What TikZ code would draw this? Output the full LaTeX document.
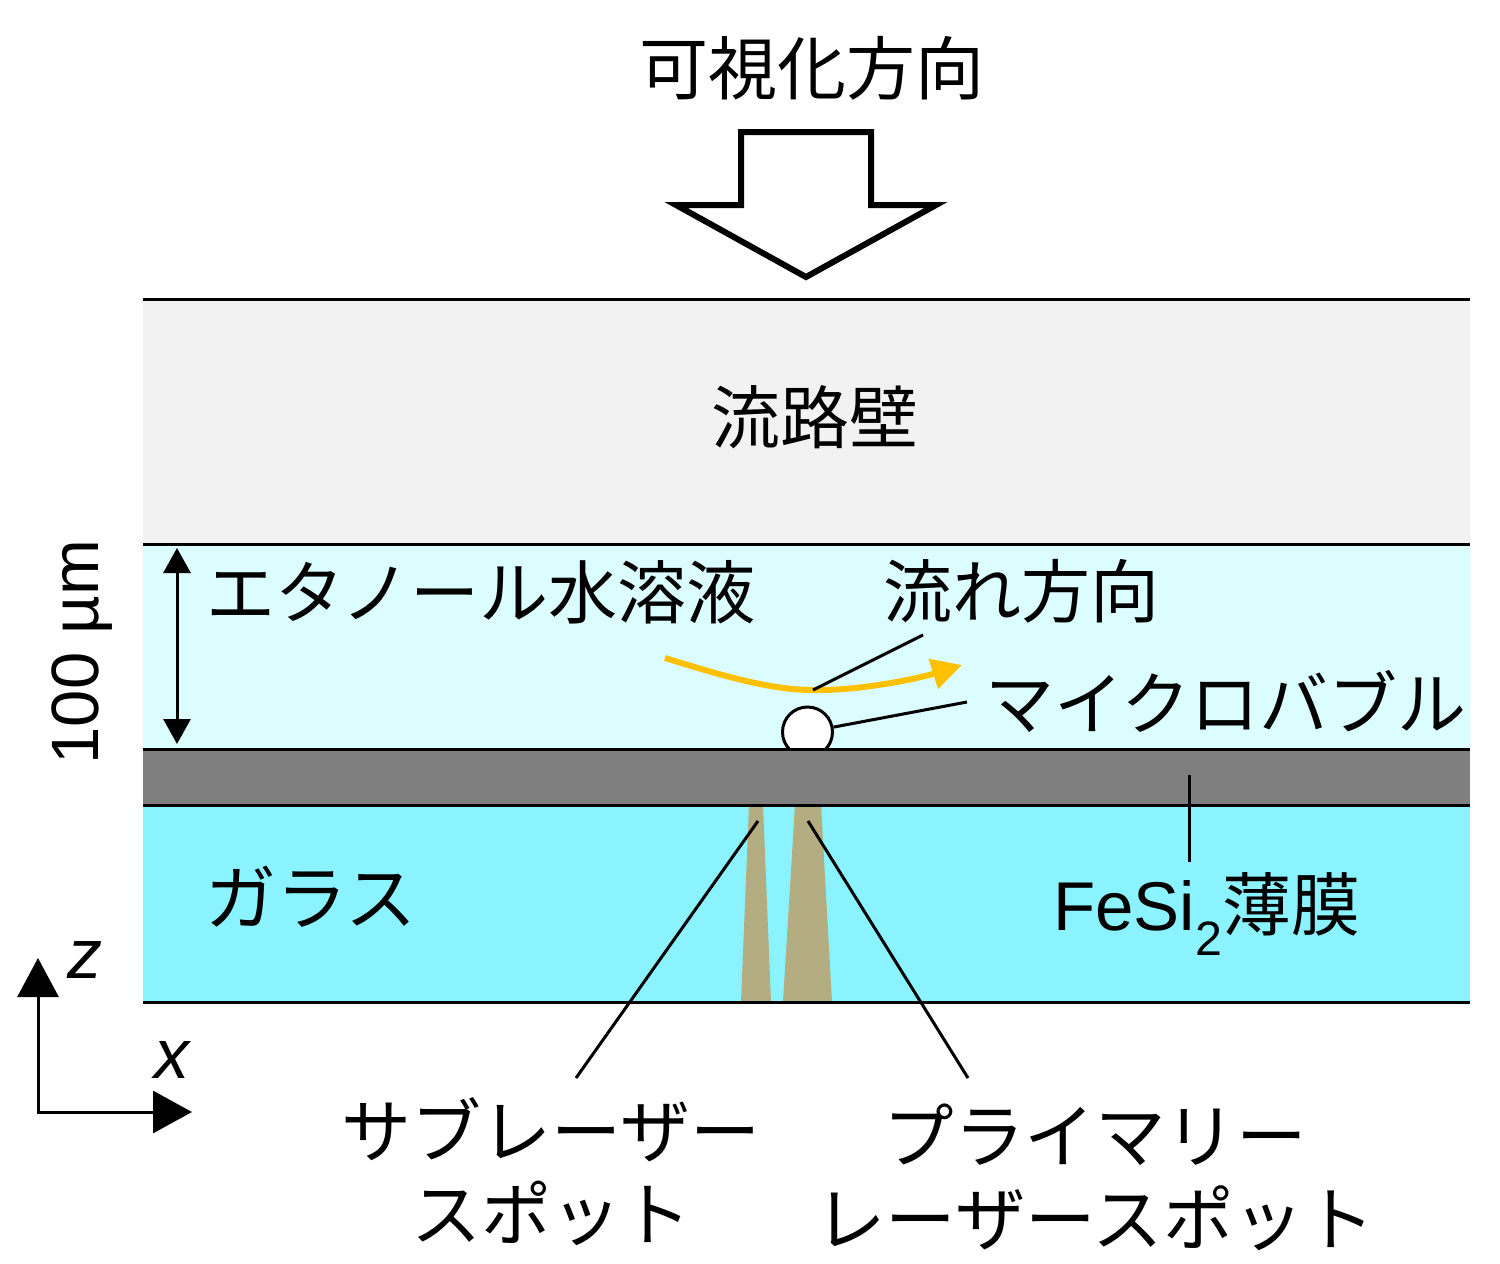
\documentclass[tikz,border=0pt]{standalone}
\usepackage{fontspec}
\setmainfont{Liberation Sans}
\newfontfamily\cjk{Noto Sans CJK JP}
\usetikzlibrary{arrows.meta}
\definecolor{wallc}{HTML}{F2F2F2}
\definecolor{liqc}{HTML}{DBFDFF}
\definecolor{filmc}{HTML}{7F7F7F}
\definecolor{glassc}{HTML}{8AF3FF}
\definecolor{spotc}{HTML}{B3AD81}
\definecolor{flowc}{HTML}{FFC000}
\tikzset{
 x=1pt,y=-1pt,
 lbl/.style={inner sep=0pt,outer sep=0pt,anchor=center,font=\fontsize{69}{80}\selectfont\cjk,align=center},
 edge/.style={line width=3pt,black},
 leader/.style={line width=3pt,black},
 dbl/.style={line width=3pt,{Triangle[length=25pt,width=27pt]}-{Triangle[length=25pt,width=27pt]}},
 zaxis/.style={line width=3pt,-{Triangle[length=39pt,width=41pt]}},
 xaxis/.style={line width=3pt,-{Triangle[length=39pt,width=42pt]}},
}
\begin{document}
\begin{tikzpicture}
\useasboundingbox (0,0) rectangle (1500,1264);
\fill[white] (0,0) rectangle (1500,1264);
% layers
\fill[wallc] (143,299) rectangle (1470,544);
\fill[liqc] (143,544) rectangle (1470,749);
% bubble sits behind the film
\node[circle,draw=black,fill=white,line width=3pt,minimum size=50pt,inner sep=0pt] (bub) at (807.5,732) {};
\fill[filmc] (143,749) rectangle (1470,805);
\fill[glassc] (143,805) rectangle (1470,1002);
% spots
\fill[spotc] (749,805) -- (763,805) -- (771,1002) -- (741,1002) -- cycle;
\fill[spotc] (795,805) -- (821,805) -- (832,1002) -- (783,1002) -- cycle;
% layer edges
\draw[edge] (143,299) -- (1470,299);
\draw[edge] (143,544) -- (1470,544);
\draw[edge] (143,749) -- (1470,749);
\draw[edge] (143,805) -- (1470,805);
\draw[edge] (143,1002) -- (1470,1002);
% big arrow
\draw[line width=6pt,miter limit=10,fill=white,draw=black,line join=miter] (741,132) -- (871,132) -- (871,205) -- (936,205) -- (806,277) -- (676,205) -- (741,205) -- cycle;
% labels
\node[lbl] (view) at (812,68) {可視化方向};
\node[lbl] (wall) at (815,417) {流路壁};
\node[lbl] (etoh) at (481,592) {エタノール水溶液};
\node[lbl] (flow) at (1021,591) {流れ方向};
\node[lbl] (mb) at (1226,701) {マイクロバブル};
\node[lbl,font=\fontsize{71}{80}\selectfont\cjk] (glass) at (311,897) {ガラス};
\node[lbl,font=\fontsize{69}{80}\selectfont] (film) at (1207,914) {FeSi\textsubscript{2}{\cjk 薄膜}};
\node[lbl,font=\fontsize{70}{83}\selectfont\cjk] (sub) at (551,1172) {サブレーザー\\スポット};
\node[lbl,font=\fontsize{70.5}{83}\selectfont\cjk] (pri) at (1095,1177) {プライマリー\\レーザースポット};
\node[lbl,font=\fontsize{67}{80}\selectfont,rotate=90] (hund) at (82,652) {100 µm};
\node[lbl,font=\fontsize{70}{80}\selectfont\itshape] (zl) at (85,960) {z};
\node[lbl,font=\fontsize{70}{80}\selectfont\itshape] (xl) at (172,1060) {x};
% flow arrow
\coordinate (fs) at (665,658);
\coordinate (fm) at (813,690);
\coordinate (fe) at (962,665);
\draw[flowc,line width=6pt,-{Triangle[length=30pt,width=30pt]}] (fs) .. controls (720,675) and (770,690) .. (fm) .. controls (860,691) and (920,678) .. (fe);
% leaders
\coordinate (flowlab) at (923,635);
\draw[leader] (fm) -- (flowlab);
\coordinate (mbl) at (967,702);
\draw[leader] (bub) -- (mbl);
\coordinate (filmtop) at (1189,775);
\coordinate (filmbot) at (1189,862);
\draw[leader] (filmtop) -- (filmbot);
\coordinate (subt) at (758,821);
\coordinate (subb) at (576,1078);
\draw[leader] (subt) -- (subb);
\coordinate (prit) at (808,821);
\coordinate (prib) at (968,1078);
\draw[leader] (prit) -- (prib);
% height arrow
\coordinate (ht) at (177,548);
\coordinate (hb) at (177,744);
\draw[dbl] (ht) -- (hb);
% axes
\coordinate (org) at (38,1112);
\coordinate (zt) at (38,958);
\coordinate (xt) at (192,1112);
\draw[zaxis] (38,1113.5) -- (zt);
\draw[xaxis] (org) -- (xt);
\end{tikzpicture}
\end{document}
